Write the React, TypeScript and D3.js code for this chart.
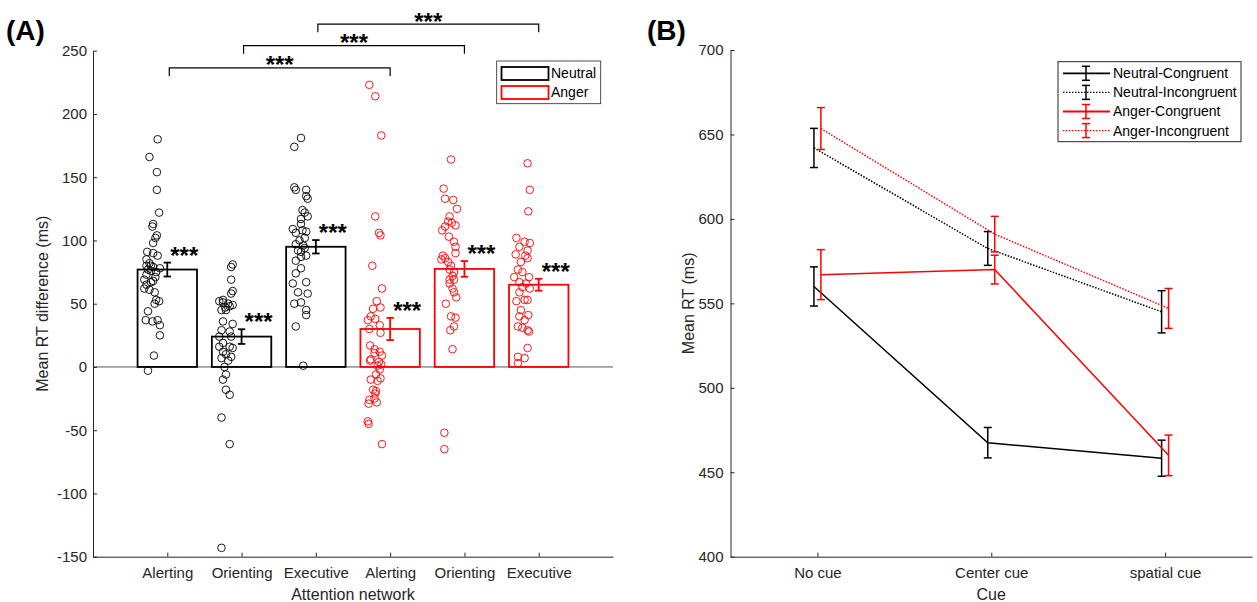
import React, { useRef, useEffect } from 'react';
import * as d3 from 'd3';

// ---- panel A data ----
const networks = ['Alerting', 'Orienting', 'Executive', 'Alerting', 'Orienting', 'Executive'];
const emotions = ['Neutral', 'Neutral', 'Neutral', 'Anger', 'Anger', 'Anger'];
const meanDiff = [77, 24, 95, 30, 77.5, 65];
const semDiff = [5.5, 5.8, 5.3, 8.8, 6.2, 4.7];

const neutralAlerting = [180, 166, 154, 140, 122, 113, 111, 104, 102, 98, 91, 90, 88, 85, 82, 80, 80, 79, 78, 77, 76, 75, 73, 71, 69, 68, 67, 65, 62, 61, 59, 53, 52, 50, 44, 37, 36, 37, 33, 25, 9, -3];
const neutralAlertingJitter = [-0.13, -0.24, -0.14, -0.14, -0.11, -0.19, -0.2, -0.14, -0.16, -0.19, -0.27, -0.19, -0.13, -0.28, -0.24, -0.22, -0.28, -0.19, -0.1, -0.26, -0.22, -0.15, -0.28, -0.16, -0.31, -0.19, -0.22, -0.28, -0.31, -0.24, -0.17, -0.15, -0.11, -0.17, -0.26, -0.29, -0.2, -0.13, -0.1, -0.1, -0.18, -0.26];
const neutralOrienting = [81, 79, 69, 60, 58, 53, 52, 51, 50, 49, 48, 47, 45, 45, 36, 34, 29, 28, 24, 24, 19, 16, 16, 15, 12, 10, 8, 7, 5, 0, -6, -10, -18, -22, -40, -61, -143];
const neutralOrientingJitter = [-0.12, -0.14, -0.14, -0.12, -0.14, -0.25, -0.3, -0.25, -0.18, -0.12, -0.16, -0.22, -0.27, -0.21, -0.25, -0.12, -0.27, -0.16, -0.3, -0.14, -0.25, -0.3, -0.16, -0.12, -0.25, -0.21, -0.14, -0.27, -0.18, -0.23, -0.21, -0.25, -0.21, -0.16, -0.27, -0.16, -0.27];
const neutralExecutive = [181, 174, 142, 140, 140, 135, 133, 124, 122, 119, 117, 113, 109, 108, 107, 106, 102, 100, 97, 96, 94, 92, 91, 88, 87, 84, 78, 74, 67, 66, 59, 58, 51, 50, 45, 41, 32, 1];
const neutralExecutiveJitter = [-0.2, -0.29, -0.29, -0.27, -0.13, -0.13, -0.11, -0.18, -0.15, -0.11, -0.2, -0.2, -0.31, -0.18, -0.13, -0.27, -0.15, -0.22, -0.27, -0.17, -0.15, -0.24, -0.2, -0.13, -0.2, -0.27, -0.2, -0.27, -0.13, -0.31, -0.24, -0.11, -0.2, -0.29, -0.13, -0.13, -0.27, -0.17];
const angerAlerting = [223, 214, 183, 119, 106, 104, 80, 62, 52, 47, 46, 40, 38, 37, 33, 30, 27, 17, 14, 12, 11, 9, 6, 5, 4, 2, 1, -2, -6, -9, -10, -11, -18, -19, -21, -25, -26, -28, -29, -43, -45, -61];
const angerAlertingJitter = [-0.28, -0.2, -0.12, -0.2, -0.15, -0.13, -0.24, -0.11, -0.18, -0.13, -0.23, -0.26, -0.2, -0.3, -0.14, -0.28, -0.13, -0.27, -0.21, -0.14, -0.21, -0.11, -0.26, -0.27, -0.15, -0.12, -0.17, -0.14, -0.19, -0.13, -0.26, -0.17, -0.23, -0.19, -0.2, -0.21, -0.28, -0.18, -0.29, -0.3, -0.29, -0.11];
const angerOrienting = [164, 141, 133, 132, 125, 119, 115, 114, 112, 111, 108, 103, 99, 95, 90, 88, 86, 85, 83, 80, 77, 75, 72, 69, 69, 66, 62, 59, 55, 50, 40, 39, 32, 29, 14, -52, -65];
const angerOrientingJitter = [-0.18, -0.28, -0.26, -0.15, -0.1, -0.2, -0.22, -0.17, -0.12, -0.26, -0.3, -0.21, -0.14, -0.12, -0.12, -0.29, -0.26, -0.31, -0.22, -0.18, -0.2, -0.14, -0.16, -0.2, -0.14, -0.2, -0.16, -0.14, -0.11, -0.25, -0.18, -0.12, -0.14, -0.19, -0.16, -0.27, -0.27];
const angerExecutive = [161, 140, 123, 102, 99, 98, 95, 92, 89, 88, 86, 83, 77, 75, 71, 71, 67, 66, 63, 62, 59, 53, 53, 52, 45, 41, 40, 37, 32, 31, 29, 28, 15, 8, 7, 3];
const angerExecutiveJitter = [-0.15, -0.12, -0.14, -0.3, -0.19, -0.12, -0.26, -0.15, -0.31, -0.18, -0.15, -0.24, -0.28, -0.22, -0.13, -0.33, -0.26, -0.17, -0.22, -0.12, -0.26, -0.19, -0.15, -0.3, -0.24, -0.14, -0.26, -0.19, -0.28, -0.22, -0.15, -0.13, -0.15, -0.28, -0.19, -0.28];

const groupPoints = [neutralAlerting, neutralOrienting, neutralExecutive, angerAlerting, angerOrienting, angerExecutive];
const groupJitter = [neutralAlertingJitter, neutralOrientingJitter, neutralExecutiveJitter, angerAlertingJitter, angerOrientingJitter, angerExecutiveJitter];

const comparisons = [[1, 4], [2, 5], [3, 6]];
const comparisonHeights = [236.5, 254, 271];
const yTicksA = [-150, -100, -50, 0, 50, 100, 150, 200, 250];

// ---- panel B data ----
const cues = ['No cue', 'Center cue', 'spatial cue'];
const seriesNames = ['Neutral-Congruent', 'Neutral-Incongruent', 'Anger-Congruent', 'Anger-Incongruent'];
const neutralCongruent = [560, 467.5, 458.3];
const neutralCongruentErr = [11.6, 9, 10.7];
const neutralIncongruent = [642, 582.5, 545];
const neutralIncongruentErr = [11.6, 10, 12.5];
const angerCongruent = [567, 570, 460];
const angerCongruentErr = [14.8, 8.5, 12];
const angerIncongruent = [653.5, 591, 547];
const angerIncongruentErr = [12.4, 10.5, 11.8];
const yTicksB = [400, 450, 500, 550, 600, 650, 700];

const FONT = 'Arial, "Liberation Sans", sans-serif';
const AXIS = '#262626';

const App = () => {
  const svgRef = useRef(null);

  useEffect(() => {
    const svg = d3.select(svgRef.current);
    svg.selectAll('*').remove();
    const color = d3.scaleOrdinal().domain(['Neutral', 'Anger']).range(['#000000', '#ff0000']);

    // ===== Panel A =====
    const xA = d3.scaleLinear().domain([0, 7]).range([93, 613]);
    const yA = d3.scaleLinear().domain([-150, 250]).range([556.7, 50.7]);
    const gA = svg.append('g');

    // zero line
    gA.append('line')
      .attr('x1', xA(0)).attr('x2', xA(7))
      .attr('y1', yA(0)).attr('y2', yA(0))
      .attr('stroke', '#555').attr('stroke-width', 1);

    // bars
    gA.selectAll('.bar')
      .data(meanDiff)
      .join('rect')
      .attr('class', 'bar')
      .attr('x', (d, i) => xA(i + 1 - 0.4))
      .attr('width', xA(0.8) - xA(0))
      .attr('y', d => yA(d))
      .attr('height', d => yA(0) - yA(d))
      .attr('fill', 'none')
      .attr('stroke', (d, i) => color(emotions[i]))
      .attr('stroke-width', 1.8);

    // individual points
    groupPoints.forEach((pts, gi) => {
      gA.append('g').selectAll('circle')
        .data(pts)
        .join('circle')
        .attr('cx', (d, j) => xA(gi + 1 + groupJitter[gi][j]))
        .attr('cy', d => yA(d))
        .attr('r', 3.8)
        .attr('fill', 'none')
        .attr('stroke', color(emotions[gi]))
        .attr('stroke-width', 0.9);
    });

    // error bars
    const capA = 0.05;
    meanDiff.forEach((m, i) => {
      const c = color(emotions[i]);
      const eg = gA.append('g').attr('stroke', c).attr('stroke-width', 1.8);
      const lo = m - semDiff[i];
      const hi = m + semDiff[i];
      eg.append('line').attr('x1', xA(i + 1)).attr('x2', xA(i + 1)).attr('y1', yA(lo)).attr('y2', yA(hi));
      eg.append('line').attr('x1', xA(i + 1 - capA)).attr('x2', xA(i + 1 + capA)).attr('y1', yA(lo)).attr('y2', yA(lo));
      eg.append('line').attr('x1', xA(i + 1 - capA)).attr('x2', xA(i + 1 + capA)).attr('y1', yA(hi)).attr('y2', yA(hi));
      gA.append('text')
        .attr('x', xA(i + 1) + 3)
        .attr('y', yA(hi) + 1)
        .attr('font-family', FONT)
        .attr('font-weight', 'bold')
        .attr('font-size', 24)
        .attr('fill', '#000')
        .text('***');
    });

    // comparison brackets
    comparisons.forEach(([a, b], k) => {
      const h = comparisonHeights[k];
      gA.append('path')
        .attr('d', d3.line()([[xA(a) + 2, yA(h - 6.5)], [xA(a) + 2, yA(h)], [xA(b), yA(h)], [xA(b), yA(h - 6.5)]]))
        .attr('fill', 'none')
        .attr('stroke', '#000')
        .attr('stroke-width', 1.2);
      gA.append('text')
        .attr('x', (xA(a) + xA(b)) / 2 + 1)
        .attr('y', yA(h) + 5.5)
        .attr('text-anchor', 'middle')
        .attr('font-family', FONT)
        .attr('font-weight', 'bold')
        .attr('font-size', 24)
        .attr('fill', '#000')
        .text('***');
    });

    // axes A
    const axLeftA = gA.append('g')
      .attr('transform', `translate(${xA(0)},0)`)
      .call(d3.axisLeft(yA).tickValues(yTicksA).tickFormat(d => String(d)).tickSizeInner(-4).tickSizeOuter(0).tickPadding(6));
    const axBottomA = gA.append('g')
      .attr('transform', `translate(0,${yA(-150)})`)
      .call(d3.axisBottom(xA).tickValues([1, 2, 3, 4, 5, 6]).tickFormat(d => networks[d - 1]).tickSizeInner(-4).tickSizeOuter(0).tickPadding(11));
    [axLeftA, axBottomA].forEach(ax => {
      ax.selectAll('path, line').attr('stroke', AXIS);
      ax.selectAll('text').attr('fill', AXIS).attr('font-size', 15).attr('font-family', FONT);
    });

    gA.append('text')
      .attr('x', (xA(0) + xA(7)) / 2).attr('y', 600)
      .attr('text-anchor', 'middle').attr('font-family', FONT).attr('font-size', 16).attr('fill', AXIS)
      .text('Attention network');
    gA.append('text')
      .attr('transform', `translate(48,${(yA(-150) + yA(250)) / 2}) rotate(-90)`)
      .attr('text-anchor', 'middle').attr('font-family', FONT).attr('font-size', 16).attr('fill', AXIS)
      .text('Mean RT difference (ms)');

    // legend A
    const legA = gA.append('g');
    legA.append('rect').attr('x', 496.7).attr('y', 61).attr('width', 104).attr('height', 42.7)
      .attr('fill', '#fff').attr('stroke', AXIS).attr('stroke-width', 0.8);
    ['Neutral', 'Anger'].forEach((name, i) => {
      legA.append('rect').attr('x', 501.5).attr('y', 67 + i * 19).attr('width', 47).attr('height', 13)
        .attr('fill', 'none').attr('stroke', color(name)).attr('stroke-width', 1.8);
      legA.append('text').attr('x', 551).attr('y', 73.5 + i * 19).attr('dy', '0.35em')
        .attr('font-family', FONT).attr('font-size', 14).attr('fill', '#000').text(name);
    });

    svg.append('text').attr('x', 6).attr('y', 40)
      .attr('font-family', FONT).attr('font-weight', 'bold').attr('font-size', 28).attr('fill', '#000')
      .text('(A)');

    // ===== Panel B =====
    const xB = d3.scaleLinear().domain([0.5, 3.5]).range([730.5, 1252]);
    const yB = d3.scaleLinear().domain([400, 700]).range([556.7, 50]);
    const gB = svg.append('g');

    const series = [
      { name: seriesNames[0], values: neutralCongruent, err: neutralCongruentErr, emo: 'Neutral', dotted: false, shift: -0.02 },
      { name: seriesNames[1], values: neutralIncongruent, err: neutralIncongruentErr, emo: 'Neutral', dotted: true, shift: -0.02 },
      { name: seriesNames[2], values: angerCongruent, err: angerCongruentErr, emo: 'Anger', dotted: false, shift: 0.02 },
      { name: seriesNames[3], values: angerIncongruent, err: angerIncongruentErr, emo: 'Anger', dotted: true, shift: 0.02 },
    ];
    const capB = 4;
    const line = d3.line();

    series.forEach(s => {
      const c = color(s.emo);
      const pts = s.values.map((v, i) => [xB(i + 1 + s.shift), yB(v)]);
      gB.append('path')
        .attr('d', line(pts))
        .attr('fill', 'none')
        .attr('stroke', c)
        .attr('stroke-width', 1.5)
        .attr('stroke-dasharray', s.dotted ? '1.5,1.5' : null);
      s.values.forEach((v, i) => {
        const x = xB(i + 1 + s.shift);
        const eg = gB.append('g').attr('stroke', c).attr('stroke-width', 1.5);
        eg.append('line').attr('x1', x).attr('x2', x).attr('y1', yB(v - s.err[i])).attr('y2', yB(v + s.err[i]));
        eg.append('line').attr('x1', x - capB).attr('x2', x + capB).attr('y1', yB(v - s.err[i])).attr('y2', yB(v - s.err[i]));
        eg.append('line').attr('x1', x - capB).attr('x2', x + capB).attr('y1', yB(v + s.err[i])).attr('y2', yB(v + s.err[i]));
      });
    });

    const axLeftB = gB.append('g')
      .attr('transform', `translate(${xB(0.5)},0)`)
      .call(d3.axisLeft(yB).tickValues(yTicksB).tickFormat(d => String(d)).tickSizeInner(-4).tickSizeOuter(0).tickPadding(7));
    const axBottomB = gB.append('g')
      .attr('transform', `translate(0,${yB(400)})`)
      .call(d3.axisBottom(xB).tickValues([1, 2, 3]).tickFormat(d => cues[d - 1]).tickSizeInner(-4).tickSizeOuter(0).tickPadding(11));
    [axLeftB, axBottomB].forEach(ax => {
      ax.selectAll('path, line').attr('stroke', AXIS);
      ax.selectAll('text').attr('fill', AXIS).attr('font-size', 15).attr('font-family', FONT);
    });

    gB.append('text')
      .attr('x', xB(2)).attr('y', 600)
      .attr('text-anchor', 'middle').attr('font-family', FONT).attr('font-size', 16).attr('fill', AXIS)
      .text('Cue');
    gB.append('text')
      .attr('transform', `translate(694,${(yB(400) + yB(700)) / 2}) rotate(-90)`)
      .attr('text-anchor', 'middle').attr('font-family', FONT).attr('font-size', 16).attr('fill', AXIS)
      .text('Mean RT (ms)');

    // legend B
    const legB = gB.append('g');
    legB.append('rect').attr('x', 1058).attr('y', 61.7).attr('width', 183).attr('height', 80)
      .attr('fill', '#fff').attr('stroke', AXIS).attr('stroke-width', 1);
    series.forEach((s, i) => {
      const y = 73.3 + i * 19.1;
      const c = color(s.emo);
      legB.append('line').attr('x1', 1063).attr('x2', 1110).attr('y1', y).attr('y2', y)
        .attr('stroke', c).attr('stroke-width', s.dotted ? 1.3 : 1.8)
        .attr('stroke-dasharray', s.dotted ? '1.5,1.5' : null);
      const eg = legB.append('g').attr('stroke', c).attr('stroke-width', 1.5);
      eg.append('line').attr('x1', 1086).attr('x2', 1086).attr('y1', y - 7).attr('y2', y + 7);
      eg.append('line').attr('x1', 1082).attr('x2', 1090).attr('y1', y - 7).attr('y2', y - 7);
      eg.append('line').attr('x1', 1082).attr('x2', 1090).attr('y1', y + 7).attr('y2', y + 7);
      legB.append('text').attr('x', 1113).attr('y', y).attr('dy', '0.35em')
        .attr('font-family', FONT).attr('font-size', 14).attr('fill', '#000').text(s.name);
    });

    svg.append('text').attr('x', 647).attr('y', 40)
      .attr('font-family', FONT).attr('font-weight', 'bold').attr('font-size', 28).attr('fill', '#000')
      .text('(B)');

    return () => {
      svg.selectAll('*').remove();
    };
  }, []);

  return (
    <svg
      ref={svgRef}
      width={1257}
      height={602}
      style={{ position: 'absolute', left: 0, top: 0, background: '#fff' }}
    />
  );
};

export default App;
